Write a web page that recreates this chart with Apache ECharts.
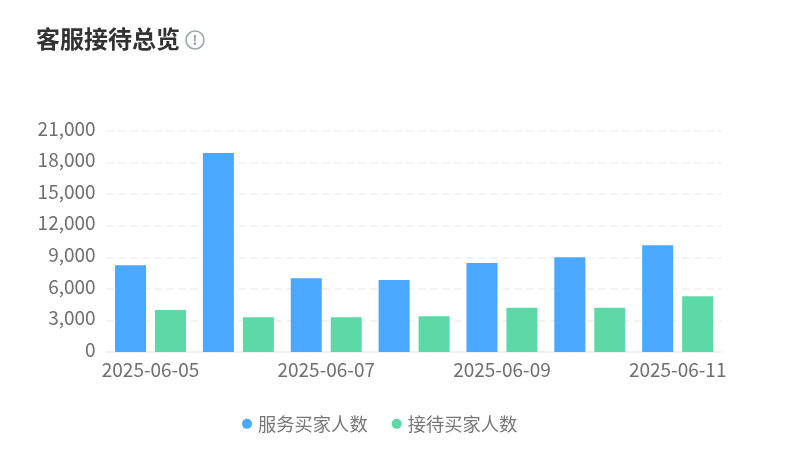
<!DOCTYPE html>
<html><head><meta charset="utf-8">
<style>html,body{margin:0;padding:0;background:#fff}#c{width:796px;height:460px}</style>
<script src="https://cdn.jsdelivr.net/npm/echarts@6/dist/echarts.min.js"></script>
</head><body><div id="c"></div>
<script>
const categories=['2025-06-05','2025-06-06','2025-06-07','2025-06-08','2025-06-09','2025-06-10','2025-06-11'];
const serviceBuyers=[8250,18900,7000,6850,8450,9000,10150];
const receptionBuyers=[4000,3300,3300,3400,4200,4200,5300];
const seriesNames=['服务买家人数','接待买家人数'];
const FONT='"Noto Sans CJK SC","Noto Sans",sans-serif';
const chart=echarts.init(document.getElementById('c'),null,{renderer:'canvas'});
chart.setOption({
  animation:false,
  title:{text:'客服接待总览',left:36,top:27,padding:0,textStyle:{fontFamily:FONT,fontSize:24,fontWeight:'bold',color:'#333'}},
  graphic:[
    {type:'circle',shape:{cx:195,cy:40,r:9},style:{fill:'none',stroke:'#9aa8a8',lineWidth:1.6}},
    {type:'text',style:{x:195,y:40,text:'!',fill:'#8f9e9e',font:'bold 13px '+FONT,textAlign:'center',textVerticalAlign:'middle'}}
  ],
  grid:{left:106.6,right:74.4,top:131,bottom:108,containLabel:false},
  legend:{data:seriesNames,bottom:22,left:237,icon:'circle',itemWidth:10,itemHeight:10,itemGap:24,
    textStyle:{fontFamily:FONT,fontSize:18.3,color:'#777',padding:[0,0,0,1]}},
  xAxis:{type:'category',data:categories,
    axisTick:{show:false},
    axisLine:{lineStyle:{color:'#eeeeee',width:1.5}},
    axisLabel:{interval:1,hideOverlap:false,showMinLabel:true,showMaxLabel:true,fontFamily:FONT,fontSize:19,color:'#707070',margin:8}},
  yAxis:{type:'value',min:0,max:21000,interval:3000,
    axisLine:{show:false},axisTick:{show:false},
    splitLine:{lineStyle:{color:'#eeeeee',type:[7,5],width:1.5}},
    axisLabel:{fontFamily:FONT,fontSize:19,color:'#707070',margin:11,verticalAlign:'bottom',lineHeight:5,formatter:v=>v.toLocaleString('en-US')}},
  series:[
    {name:seriesNames[0],type:'bar',data:serviceBuyers,barWidth:31,barGap:'29%',itemStyle:{color:'#4aa8ff'}},
    {name:seriesNames[1],type:'bar',data:receptionBuyers,barWidth:31,itemStyle:{color:'#5cd9a6'}}
  ]
});
</script></body></html>
